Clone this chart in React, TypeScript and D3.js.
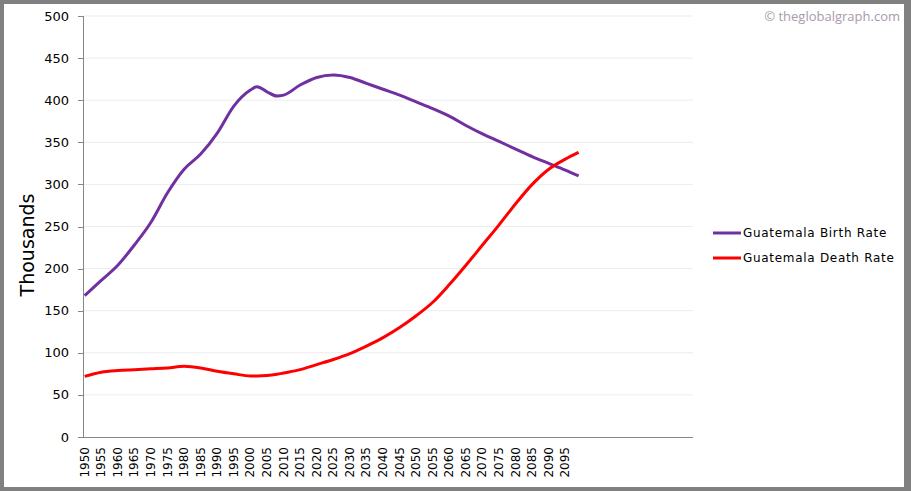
import React from 'react';
import * as d3 from 'd3';

// sampled years (a few extra points around the 2000s dip)
const years = [
  1950, 1955, 1960, 1965, 1970, 1975, 1980, 1985, 1990, 1995, 2000, 2002, 2005, 2008, 2010,
  2015, 2020, 2025, 2030, 2035, 2040, 2045, 2050, 2055, 2060, 2065, 2070, 2075, 2080, 2085,
  2090, 2095, 2099,
];

const birthRate = [
  168, 186, 204, 228, 255, 290, 318, 336, 361, 393, 412, 416, 410, 405, 406,
  418, 427, 430, 427, 420, 413, 406, 398, 390, 381, 370, 360, 351, 342, 333,
  325, 317, 310,
];

const deathRate = [
  72, 77, 79, 80, 81, 82, 84, 82, 78, 75, 72.5, 72.5, 73, 74.5, 76,
  80, 86, 92, 99, 108, 118, 130, 144, 160, 181, 204, 228, 252, 277, 300,
  318, 330, 338,
];

const yTicks = [0, 50, 100, 150, 200, 250, 300, 350, 400, 450, 500];
const xTickYears = d3.range(1950, 2096, 5);

const series = [
  { name: 'Guatemala Birth Rate', values: birthRate, color: '#7030A0' },
  { name: 'Guatemala Death Rate', values: deathRate, color: '#FF0000' },
];

const W = 911;
const H = 491;
const plot = { left: 83, right: 693, top: 16, bottom: 437 };

export default function App() {
  // category axis: one slot per year, 184 slots
  const x = d3.scaleLinear().domain([1949.5, 2133.5]).range([plot.left, plot.right]);
  const y = d3.scaleLinear().domain([0, 500]).range([plot.bottom, plot.top]);

  const line = d3
    .line<[number, number]>()
    .x((d) => x(d[0]))
    .y((d) => y(d[1]))
    .curve(d3.curveMonotoneX);

  const font = '"DejaVu Sans", Verdana, sans-serif';

  return (
    <svg
      width={W}
      height={H}
      style={{ position: 'absolute', left: 0, top: 0, display: 'block' }}
    >
      <rect x={0} y={0} width={W} height={H} fill="#808080" />
      <rect x={4} y={4} width={900} height={483} fill="#ffffff" />

      {/* gridlines */}
      {yTicks.slice(1).map((t) => (
        <line key={t} x1={plot.left} x2={plot.right} y1={y(t)} y2={y(t)} stroke="#ececec" strokeWidth={1} />
      ))}

      {/* axes */}
      <line x1={plot.left + 0.5} x2={plot.left + 0.5} y1={plot.top} y2={plot.bottom} stroke="#868686" />
      <line x1={plot.left} x2={plot.right} y1={plot.bottom + 0.5} y2={plot.bottom + 0.5} stroke="#868686" />

      {yTicks.map((t) => (
        <g key={t}>
          <line x1={plot.left - 5} x2={plot.left} y1={Math.round(y(t)) + 0.5} y2={Math.round(y(t)) + 0.5} stroke="#868686" />
          <text x={69} y={y(t)} dy="0.35em" textAnchor="end" fontFamily={font} fontSize={13} fill="#000">
            {t}
          </text>
        </g>
      ))}

      {xTickYears.map((yr) => (
        <text
          key={yr}
          transform={`translate(${x(yr) + 4},${plot.bottom + 10}) rotate(-90)`}
          textAnchor="end"
          fontFamily={font}
          fontSize={12}
          fill="#000"
        >
          {yr}
        </text>
      ))}

      <text
        transform={`translate(34,245) rotate(-90)`}
        textAnchor="middle"
        fontFamily={font}
        fontSize={19}
        fill="#000"
      >
        Thousands
      </text>

      {/* series */}
      {series.map((s) => (
        <path
          key={s.name}
          d={line(years.map((yr, i) => [yr, s.values[i]] as [number, number])) || ''}
          fill="none"
          stroke={s.color}
          strokeWidth={3}
          strokeLinejoin="round"
        />
      ))}

      {/* legend */}
      {series.map((s, i) => (
        <g key={s.name} transform={`translate(713,${233 + i * 25})`}>
          <line x1={0} x2={28} y1={0} y2={0} stroke={s.color} strokeWidth={3} />
          <text x={30} y={0} dy="0.35em" fontFamily={font} fontSize={12} letterSpacing={0.7} fill="#000">
            {s.name}
          </text>
        </g>
      ))}

      <text x={900} y={21} textAnchor="end" fontFamily='"Open Sans", sans-serif' fontSize={13} fill="#a99aab">
        © theglobalgraph.com
      </text>
    </svg>
  );
}
